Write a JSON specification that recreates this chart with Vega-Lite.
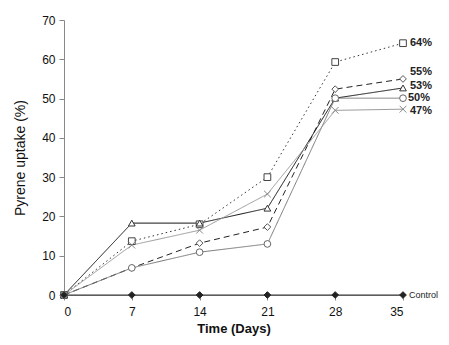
{
  "$schema": "https://vega.github.io/schema/vega-lite/v6.json",
  "width": 339,
  "height": 275,
  "autosize": {"type": "none"},
  "padding": {"left": 64, "top": 20, "right": 46, "bottom": 50},
  "background": "white",
  "config": {
    "view": {"stroke": null},
    "font": "Liberation Sans",
    "axis": {
      "grid": false,
      "domainColor": "#888",
      "tickColor": "#888",
      "tickSize": 5,
      "labelColor": "#111",
      "labelFontSize": 12,
      "labelFont": "Liberation Sans",
      "titleFont": "Liberation Sans",
      "titleFontSize": 13,
      "titleFontWeight": "bold",
      "titleColor": "#111"
    }
  },
  "data": {
    "values": [
      {"series": "64%", "day": 0, "value": 0},
      {"series": "64%", "day": 7, "value": 13.7},
      {"series": "64%", "day": 14, "value": 18},
      {"series": "64%", "day": 21, "value": 30},
      {"series": "64%", "day": 28, "value": 59.3},
      {"series": "64%", "day": 35, "value": 64.1},
      {"series": "55%", "day": 0, "value": 0},
      {"series": "55%", "day": 7, "value": 6.9},
      {"series": "55%", "day": 14, "value": 13.2},
      {"series": "55%", "day": 21, "value": 17.3},
      {"series": "55%", "day": 28, "value": 52.4},
      {"series": "55%", "day": 35, "value": 55},
      {"series": "53%", "day": 0, "value": 0},
      {"series": "53%", "day": 7, "value": 18.3},
      {"series": "53%", "day": 14, "value": 18.3},
      {"series": "53%", "day": 21, "value": 22.1},
      {"series": "53%", "day": 28, "value": 50.1},
      {"series": "53%", "day": 35, "value": 52.7},
      {"series": "50%", "day": 0, "value": 0},
      {"series": "50%", "day": 7, "value": 6.9},
      {"series": "50%", "day": 14, "value": 10.9},
      {"series": "50%", "day": 21, "value": 13},
      {"series": "50%", "day": 28, "value": 50.1},
      {"series": "50%", "day": 35, "value": 50.1},
      {"series": "47%", "day": 0, "value": 0},
      {"series": "47%", "day": 7, "value": 12.7},
      {"series": "47%", "day": 14, "value": 16.5},
      {"series": "47%", "day": 21, "value": 25.7},
      {"series": "47%", "day": 28, "value": 47},
      {"series": "47%", "day": 35, "value": 47.3},
      {"series": "Control", "day": 0, "value": 0},
      {"series": "Control", "day": 7, "value": 0},
      {"series": "Control", "day": 14, "value": 0},
      {"series": "Control", "day": 21, "value": 0},
      {"series": "Control", "day": 28, "value": 0},
      {"series": "Control", "day": 35, "value": 0}
    ]
  },
  "encoding": {
    "x": {
      "field": "day",
      "type": "quantitative",
      "scale": {"domain": [0, 35], "nice": false, "zero": true},
      "axis": {"values": [0, 7, 14, 21, 28, 35], "title": "Time (Days)", "labelPadding": 6, "titlePadding": 5}
    },
    "y": {
      "field": "value",
      "type": "quantitative",
      "scale": {"domain": [0, 70], "nice": false},
      "axis": {"values": [0, 10, 20, 30, 40, 50, 60, 70], "title": "Pyrene uptake (%)", "titleFontWeight": "normal", "titleFontSize": 14, "labelPadding": 4, "titlePadding": 14}
    }
  },
  "layer": [
    {
      "mark": {"type": "line", "strokeWidth": 1},
      "encoding": {
        "detail": {"field": "series"},
        "color": {
          "field": "series",
          "type": "nominal",
          "scale": {"domain": ["64%", "55%", "53%", "50%", "47%", "Control"], "range": ["#333", "#222", "#111", "#777", "#999", "#333"]},
          "legend": null
        },
        "strokeDash": {
          "field": "series",
          "type": "nominal",
          "scale": {"domain": ["64%", "55%", "53%", "50%", "47%", "Control"], "range": [[1.5, 3], [6, 4], [1, 0], [1, 0], [1, 0], [1, 0]]},
          "legend": null
        }
      }
    },
    {
      "mark": {"type": "point", "size": 45, "strokeWidth": 1, "opacity": 1, "filled": false},
      "encoding": {
        "shape": {
          "field": "series",
          "type": "nominal",
          "scale": {"domain": ["64%", "55%", "53%", "50%", "47%", "Control"], "range": ["square", "diamond", "triangle-up", "circle", "M-1,-1L1,1M-1,1L1,-1", "diamond"]},
          "legend": null
        },
        "stroke": {
          "field": "series",
          "type": "nominal",
          "scale": {"domain": ["64%", "55%", "53%", "50%", "47%", "Control"], "range": ["#444", "#555", "#333", "#666", "#888", "#222"]},
          "legend": null
        },
        "fill": {
          "field": "series",
          "type": "nominal",
          "scale": {"domain": ["64%", "55%", "53%", "50%", "47%", "Control"], "range": ["white", "white", "white", "white", "none", "#222"]},
          "legend": null
        }
      }
    },
    {
      "transform": [{"filter": "datum.day == 35 && datum.series == '64%'"}],
      "mark": {"type": "text", "align": "left", "baseline": "middle", "dx": 7, "fontSize": 11, "fontWeight": "bold", "color": "#222"},
      "encoding": {"text": {"field": "series"}}
    },
    {
      "transform": [{"filter": "datum.day == 35 && datum.series == '55%'"}],
      "mark": {"type": "text", "align": "left", "baseline": "middle", "dx": 7, "dy": -7, "fontSize": 11, "fontWeight": "bold", "color": "#222"},
      "encoding": {"text": {"field": "series"}}
    },
    {
      "transform": [{"filter": "datum.day == 35 && datum.series == '53%'"}],
      "mark": {"type": "text", "align": "left", "baseline": "middle", "dx": 7, "dy": -2, "fontSize": 11, "fontWeight": "bold", "color": "#222"},
      "encoding": {"text": {"field": "series"}}
    },
    {
      "transform": [{"filter": "datum.day == 35 && datum.series == '50%'"}],
      "mark": {"type": "text", "align": "left", "baseline": "middle", "dx": 5, "dy": 0, "fontSize": 11, "fontWeight": "bold", "color": "#222"},
      "encoding": {"text": {"field": "series"}}
    },
    {
      "transform": [{"filter": "datum.day == 35 && datum.series == '47%'"}],
      "mark": {"type": "text", "align": "left", "baseline": "middle", "dx": 7, "dy": 2, "fontSize": 11, "fontWeight": "bold", "color": "#222"},
      "encoding": {"text": {"field": "series"}}
    },
    {
      "transform": [{"filter": "datum.day == 35 && datum.series == 'Control'"}],
      "mark": {"type": "text", "align": "left", "baseline": "middle", "dx": 6, "fontSize": 9, "color": "#222"},
      "encoding": {"text": {"field": "series"}}
    }
  ]
}
